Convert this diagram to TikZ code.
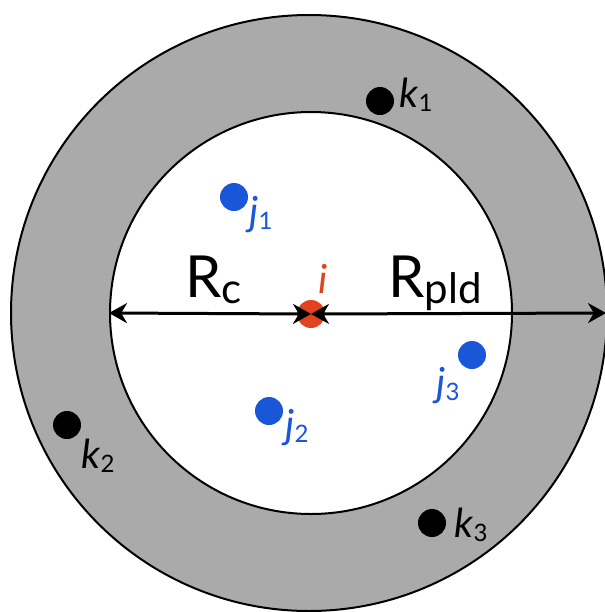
\documentclass[tikz,border=0pt]{standalone}
\usepackage{fontspec}
\setmainfont{Lato}
\usepackage{xcolor}
\usetikzlibrary{arrows.meta,positioning}
\definecolor{shellgray}{HTML}{AAAAAA}
\definecolor{nbblue}{HTML}{1A56D8}
\definecolor{centred}{HTML}{E2431F}
\newcommand{\partlab}[2]{\textit{#1}\raisebox{-2pt}{\fontsize{12}{12}\selectfont #2}}

\begin{document}
\begin{tikzpicture}[x=0.5pt,y=-0.5pt, every node/.style={inner sep=0pt}]
\tikzstyle{ring}=[circle,draw,line width=1pt]
\tikzstyle{dot}=[circle,minimum size=14pt]
\tikzstyle{varlab}=[anchor=base west,font=\fontsize{20}{22}\selectfont]
\tikzstyle{radlab}=[anchor=base west,font=\fontsize{29}{30}\selectfont]
\tikzstyle{radarrow}=[line width=1.5pt,{Stealth[length=9pt,width=10pt]}-{Stealth[length=9pt,width=10pt]}]
\useasboundingbox (0,0) rectangle (605,612);
\clip (0,0) rectangle (605,612);
% shells
\node[ring,fill=shellgray,minimum size=298pt] (outer) at (309,313) {};
\node[ring,fill=white,minimum size=201pt] (inner) at (311,313) {};
% central particle
\node[dot,fill=centred] (i) at (311,314) {};
\node[varlab,text=centred] (ilab) at (318,293) {\textit{i}};
% radii
\draw[radarrow] (inner.west) -- (i.center);
\draw[radarrow,shorten >=1pt] (i.center) -- (outer.east);
\node[radlab] (rc) at (185,297) {R\raisebox{-3pt}{\fontsize{21}{22}\selectfont c}};
\node[radlab] (rpld) at (388,297) {R\raisebox{-3pt}{\fontsize{21}{22}\selectfont pld}};
% neighbours inside the cutoff
\node[dot,fill=nbblue] (j1) at (234,197) {};
\node[dot,fill=nbblue] (j2) at (269,411) {};
\node[dot,fill=nbblue] (j3) at (472,355) {};
\node[varlab,text=nbblue] (j1lab) at (249,225) {\partlab{j}{1}};
\node[varlab,text=nbblue] (j2lab) at (285,438) {\partlab{j}{2}};
\node[varlab,text=nbblue] (j3lab) at (436,396) {\partlab{j}{3}};
% particles in the shell
\node[dot,fill=black] (k1) at (380,101) {};
\node[dot,fill=black] (k2) at (67,425) {};
\node[dot,fill=black] (k3) at (432,523) {};
\node[varlab] (k1lab) at (399,107) {\partlab{k}{1}};
\node[varlab] (k2lab) at (81,468) {\partlab{k}{2}};
\node[varlab] (k3lab) at (454,537) {\partlab{k}{3}};
\end{tikzpicture}
\end{document}
